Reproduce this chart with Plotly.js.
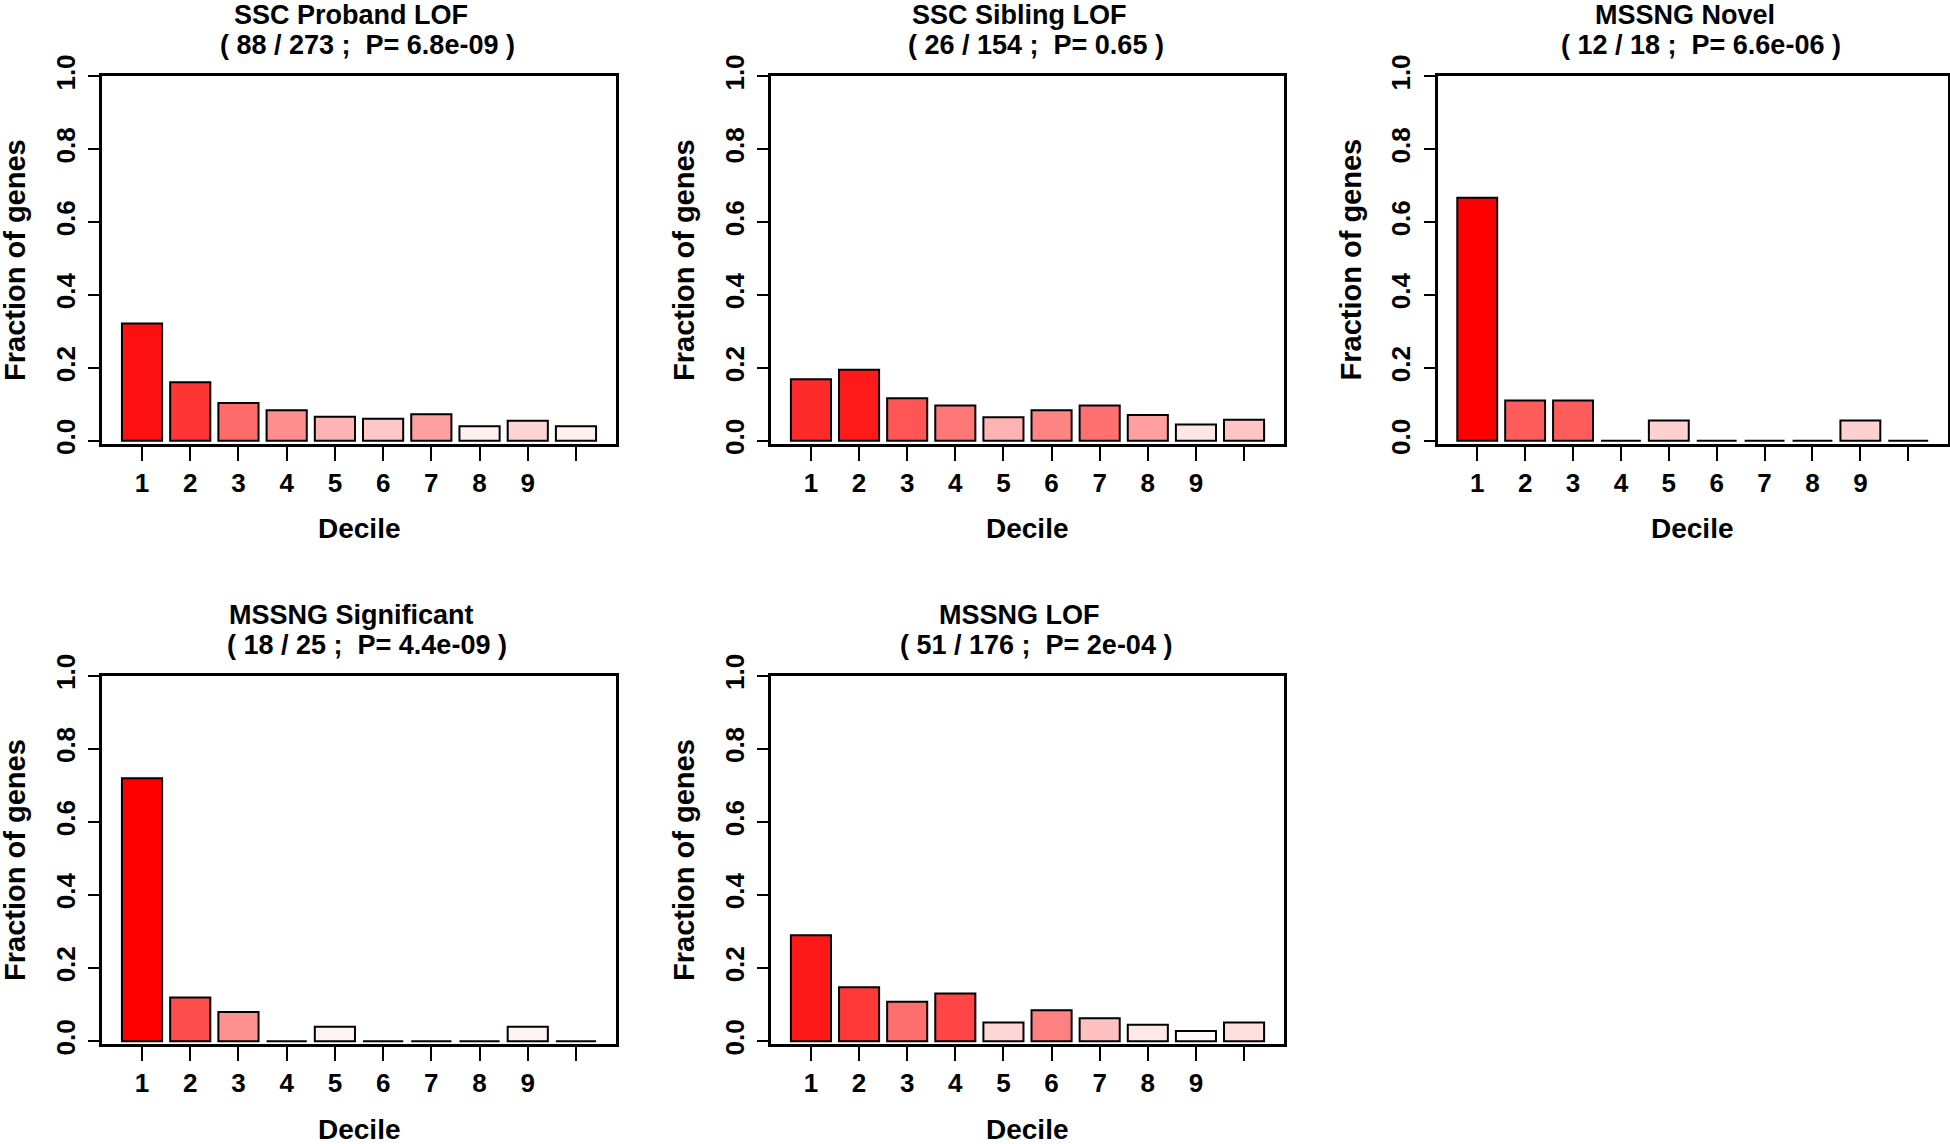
<!DOCTYPE html>
<html>
<head>
<meta charset="utf-8">
<script src="https://cdn.plot.ly/plotly-3.0.1.min.js"></script>
<style>
  html, body { margin: 0; padding: 0; background: #ffffff; }
</style>
</head>
<body>
<div id="chart" style="width:1950px;height:1144px"></div>
<script>
// ---- data ----
var deciles = [1, 2, 3, 4, 5, 6, 7, 8, 9, 10];
var decileLabels = ['1', '2', '3', '4', '5', '6', '7', '8', '9', ''];

var panelTitles = ['SSC Proband LOF', 'SSC Sibling LOF', 'MSSNG Novel', 'MSSNG Significant', 'MSSNG LOF'];
var panelStats = [
    '( 88 / 273 ;  P= 6.8e-09 )',
    '( 26 / 154 ;  P= 0.65 )',
    '( 12 / 18 ;  P= 6.6e-06 )',
    '( 18 / 25 ;  P= 4.4e-09 )',
    '( 51 / 176 ;  P= 2e-04 )'
];

var sscProband = [0.322, 0.161, 0.104, 0.084, 0.066, 0.061, 0.073, 0.040, 0.055, 0.040];
var sscSibling = [0.169, 0.195, 0.117, 0.097, 0.065, 0.084, 0.097, 0.071, 0.045, 0.058];
var mssngNovel = [0.667, 0.111, 0.111, 0, 0.056, 0, 0, 0, 0.056, 0];
var mssngSignificant = [0.72, 0.12, 0.08, 0, 0.04, 0, 0, 0, 0.04, 0];
var mssngLof = [0.290, 0.148, 0.108, 0.131, 0.051, 0.085, 0.063, 0.045, 0.028, 0.051];

// bar fills (white-to-red shading of the original)
var sscProbandColors = ['#ff1010', '#ff3535', '#ff6b6b', '#ff8e8e', '#ffb3b3', '#ffc8c8', '#ffa0a0', '#fff0f0', '#ffd4d4', '#fff0f0'];
var sscSiblingColors = ['#ff2a2a', '#ff1a1a', '#ff5555', '#ff7777', '#ffb3b3', '#ff8585', '#ff7070', '#ff9f9f', '#ffe6e6', '#ffc4c4'];
var mssngNovelColors = ['#ff0000', '#ff5c5c', '#ff5c5c', '#ffffff', '#ffd0d0', '#ffffff', '#ffffff', '#ffffff', '#ffd0d0', '#ffffff'];
var mssngSignificantColors = ['#ff0000', '#ff4d4d', '#ff9090', '#ffffff', '#fff2f2', '#ffffff', '#ffffff', '#ffffff', '#fff2f2', '#ffffff'];
var mssngLofColors = ['#ff1818', '#ff3838', '#ff6e6e', '#ff4545', '#ffd6d6', '#ff8080', '#ffc0c0', '#ffe8e8', '#fff8f8', '#ffdede'];

var panelValues = [sscProband, sscSibling, mssngNovel, mssngSignificant, mssngLof];
var panelColors = [sscProbandColors, sscSiblingColors, mssngNovelColors, mssngSignificantColors, mssngLofColors];

// ---- layout (pixel boxes of each plot region) ----
var W = 1950, H = 1144;
var boxes = [
    [102, 616, 76.4, 443.6],
    [771, 1284, 76.4, 443.6],
    [1437.5, 1948, 76.4, 443.6],
    [102, 616, 675.8, 1044],
    [771, 1284, 675.8, 1044]
];

var FONT = 'Liberation Sans, Arial, Helvetica, sans-serif';

function fx(px) { return px / W; }
function fy(py) { return 1 - py / H; }

var data = [];
var layout = {
    width: W,
    height: H,
    margin: {l: 0, r: 0, t: 0, b: 0},
    paper_bgcolor: '#ffffff',
    plot_bgcolor: '#ffffff',
    showlegend: false,
    hovermode: false,
    bargap: 0,
    annotations: []
};

for (var i = 0; i < boxes.length; i++) {
    var b = boxes[i];
    var n = i === 0 ? '' : String(i + 1);
    var cx = (b[0] + b[1]) / 2;
    var cy = (b[2] + b[3]) / 2;

    data.push({
        type: 'bar',
        x: deciles,
        y: panelValues[i],
        width: 0.833,
        xaxis: 'x' + n,
        yaxis: 'y' + n,
        marker: {color: panelColors[i], line: {color: '#000000', width: 2}},
        hoverinfo: 'skip'
    });

    layout['xaxis' + n] = {
        domain: [fx(b[0]), fx(b[1])],
        anchor: 'y' + n,
        range: [0.17, 10.83],
        tickmode: 'array',
        tickvals: deciles,
        ticktext: decileLabels,
        ticks: 'outside',
        ticklen: 14,
        tickwidth: 2,
        tickcolor: '#000000',
        ticklabelstandoff: 0,
        showline: true,
        mirror: true,
        linecolor: '#000000',
        linewidth: 3,
        showgrid: false,
        zeroline: false,
        fixedrange: true,
        tickfont: {family: FONT, size: 26, color: '#000000', weight: 'bold'}
    };
    layout['yaxis' + n] = {
        domain: [fy(b[3]), fy(b[2])],
        anchor: 'x' + n,
        range: [-0.0075, 1.0],
        tickmode: 'linear',
        tick0: 0,
        dtick: 0.2,
        tickformat: '.1f',
        tickangle: -90,
        ticks: 'outside',
        ticklen: 11,
        tickwidth: 2,
        tickcolor: '#000000',
        ticklabelstandoff: 3,
        showline: true,
        mirror: true,
        linecolor: '#000000',
        linewidth: 3,
        showgrid: false,
        zeroline: false,
        fixedrange: true,
        tickfont: {family: FONT, size: 26, color: '#000000', weight: 'bold'}
    };

    // two-line panel title
    layout.annotations.push({
        xref: 'paper', yref: 'paper', x: fx(cx), y: fy(b[2] - 61),
        xanchor: 'center', yanchor: 'middle', showarrow: false, xshift: -8,
        text: panelTitles[i],
        font: {family: FONT, size: 27, color: '#000000', weight: 'bold'}
    });
    layout.annotations.push({
        xref: 'paper', yref: 'paper', x: fx(cx), y: fy(b[2] - 31),
        xanchor: 'center', yanchor: 'middle', showarrow: false, xshift: 8,
        text: panelStats[i],
        font: {family: FONT, size: 27, color: '#000000', weight: 'bold'}
    });
    // axis titles
    layout.annotations.push({
        xref: 'paper', yref: 'paper', x: fx(cx), y: fy(b[3] + 85),
        xanchor: 'center', yanchor: 'middle', showarrow: false,
        text: 'Decile',
        font: {family: FONT, size: 28, color: '#000000', weight: 'bold'}
    });
    layout.annotations.push({
        xref: 'paper', yref: 'paper', x: fx(b[0] - 87), y: fy(cy),
        xanchor: 'center', yanchor: 'middle', showarrow: false, textangle: -90,
        text: 'Fraction of genes',
        font: {family: FONT, size: 29, color: '#000000', weight: 'bold'}
    });
}

Plotly.newPlot('chart', data, layout, {displayModeBar: false, staticPlot: true});
</script>
</body>
</html>
